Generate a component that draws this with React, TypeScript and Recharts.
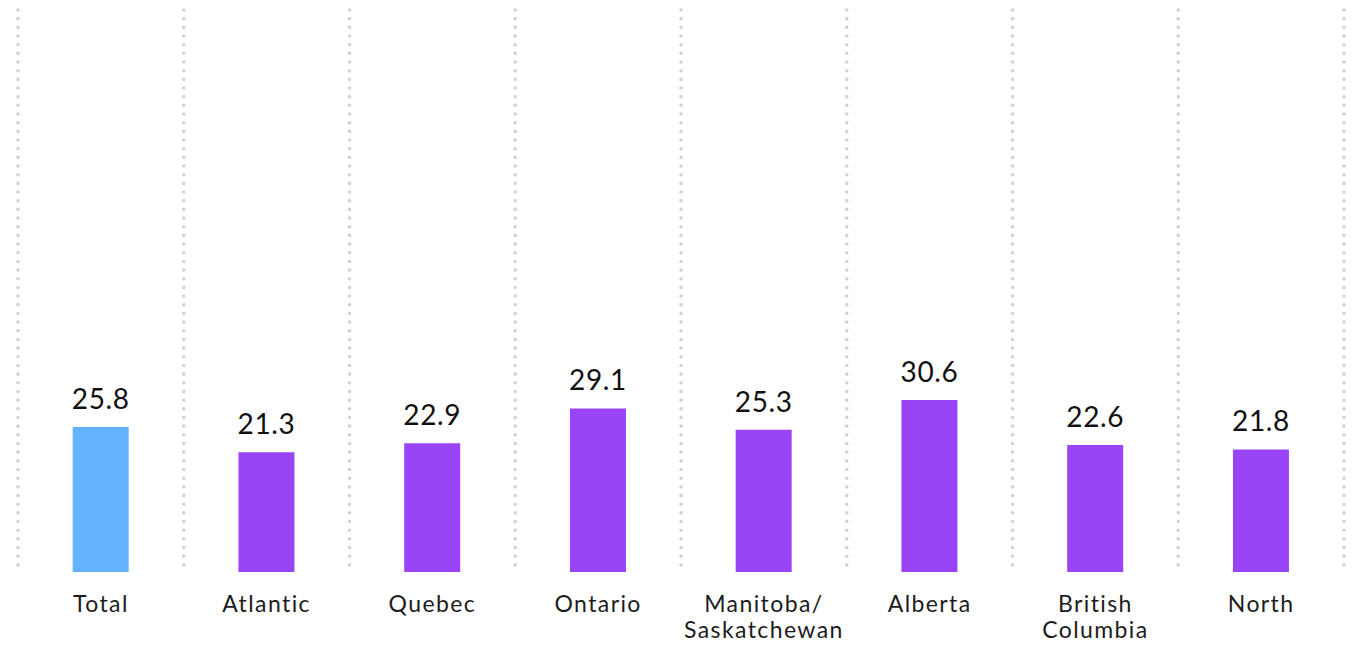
import React from 'react';
import { BarChart, Bar, XAxis, YAxis, CartesianGrid, Cell, LabelList } from 'recharts';

const regions = ['Total', 'Atlantic', 'Quebec', 'Ontario', 'Manitoba/ Saskatchewan', 'Alberta', 'British Columbia', 'North'];
const shares = [25.8, 21.3, 22.9, 29.1, 25.3, 30.6, 22.6, 21.8];
const yDomain = [0, 100];

const TOTAL_COLOR = '#63b3ff';
const REGION_COLOR = '#9a44f7';
const FONT = 'Lato, "Open Sans", sans-serif';

const data = regions.map((name, i) => ({ name, value: shares[i] }));

// wraps the two long region names onto two lines
const RegionTick = (props: any) => {
  const { x, y, payload } = props;
  const words: string[] = payload.value.split(' ');
  const lines = words.length > 1 ? words : [payload.value];
  return (
    <g transform={`translate(${x},${y})`}>
      <text textAnchor="middle" fill="#1c1c1c" fontSize={23} letterSpacing={1.4} fontFamily={FONT}>
        {lines.map((l, i) => (
          <tspan key={i} x={0} y={32 + i * 26}>{l}</tspan>
        ))}
      </text>
    </g>
  );
};

const ValueLabel = (props: any) => {
  const { x, y, width, value } = props;
  return (
    <text x={x + width / 2} y={y - 18} textAnchor="middle" fill="#111" fontSize={28} letterSpacing={0.6} fontFamily={FONT}>
      {value}
    </text>
  );
};

const DottedLine = (props: any) => {
  const { x1, y1, x2, y2 } = props;
  return (
    <line x1={x1} y1={y1} x2={x2} y2={y2} stroke="#d2d2d2" strokeWidth={3.6}
      strokeLinecap="round" strokeDasharray="0 8.67" />
  );
};

const App: React.FC = () => {
  return (
    <div style={{ position: 'absolute', left: 0, top: 0, width: 1354, height: 647, background: '#fff' }}>
      <BarChart width={1354} height={647} data={data} margin={{ top: 10, right: 10, bottom: 0, left: 18 }}
        barCategoryGap="33%">
        <CartesianGrid
          horizontal={false}
          vertical={DottedLine}
          verticalCoordinatesGenerator={({ offset }: any) =>
            Array.from({ length: regions.length + 1 }, (_, i) => offset.left + (i * offset.width) / regions.length)
          }
        />
        <XAxis dataKey="name" axisLine={false} tickLine={false} height={75} interval={0} tick={<RegionTick />} />
        <YAxis hide domain={yDomain} />
        <Bar dataKey="value" isAnimationActive={false}>
          {data.map((d, i) => (
            <Cell key={d.name} fill={i === 0 ? TOTAL_COLOR : REGION_COLOR} />
          ))}
          <LabelList dataKey="value" content={<ValueLabel />} />
        </Bar>
      </BarChart>
    </div>
  );
};

export default App;
